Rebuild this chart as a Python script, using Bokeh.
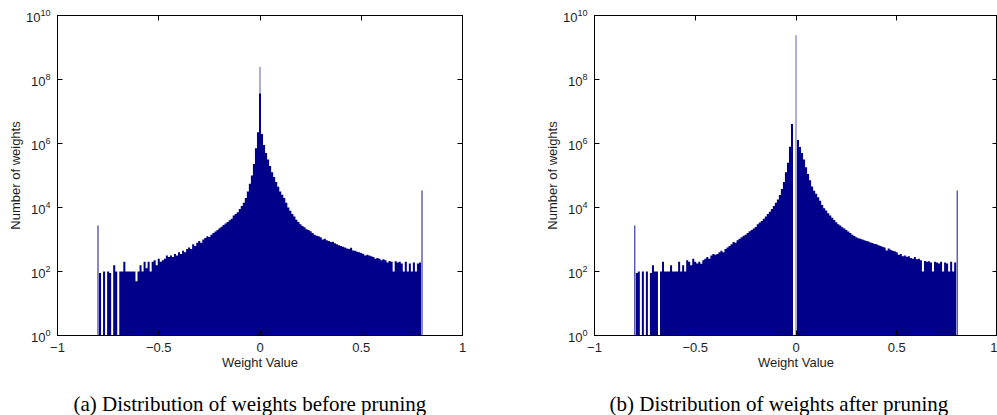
import numpy as np
from bokeh.plotting import figure
from bokeh.layouts import row, column
from bokeh.models import (FixedTicker, LinearAxis, LogAxis, CustomJSTickFormatter,
                          Range1d, Label)
from bokeh.embed import file_html
from bokeh.resources import INLINE

# ---------------- data ----------------
# histogram bin centres, weight value (bins of 0.01)
bin_centers = np.round(np.linspace(-0.79, 0.79, 159), 2)

# counts per bin, before pruning
before_counts = [
    89, 0, 100, 0, 100, 89, 0, 158, 100, 0,                      # -0.79 .. -0.70
    100, 100, 200, 100, 100, 100, 100, 100, 50, 100,             # -0.69 .. -0.60
    158, 100, 200, 126, 200, 100, 200, 224, 158, 251,            # -0.59 .. -0.50
    200, 224, 251, 316, 282, 316, 282, 355, 316, 398,            # -0.49 .. -0.40
    355, 447, 398, 501, 562, 501, 708, 631, 794, 891,            # -0.39 .. -0.30
    794, 1000, 1122, 1259, 1202, 1413, 1585, 1778, 1995, 2239,   # -0.29 .. -0.20
    2512, 2818, 3162, 3548, 3981, 4467, 5623, 6310, 7079, 8913,  # -0.19 .. -0.10
    11220, 14125, 19953, 31623, 54954, 100000, 229087, 707946, 2238721, 36307805,  # -0.09 .. 0.00
    1995262, 891251, 501187, 316228, 199526, 125893, 89125, 63096, 44668, 31623,  # 0.01 .. 0.10
    25119, 19953, 14125, 10000, 7943, 6310, 5248, 4169, 3548, 3020,  # 0.11 .. 0.20
    2630, 2399, 2089, 1995, 1820, 1585, 1413, 1318, 1259, 1175,  # 0.21 .. 0.30
    1000, 1047, 955, 891, 832, 851, 759, 708, 661, 631,          # 0.31 .. 0.40
    589, 562, 525, 501, 550, 457, 447, 417, 398, 380,            # 0.41 .. 0.50
    355, 316, 331, 316, 302, 282, 251, 263, 251, 224,            # 0.51 .. 0.60
    240, 224, 191, 214, 200, 100, 209, 191, 200, 178,            # 0.61 .. 0.70
    100, 200, 100, 178, 100, 191, 100, 178, 191,                 # 0.71 .. 0.79
]

# counts per bin, after pruning
after_counts = [
    89, 100, 0, 100, 0, 100, 0, 89, 158, 100,                    # -0.79 .. -0.70
    100, 0, 100, 200, 100, 100, 100, 158, 100, 100,              # -0.69 .. -0.60
    100, 200, 100, 158, 100, 224, 200, 158, 251, 200,            # -0.59 .. -0.50
    178, 200, 174, 224, 251, 282, 251, 316, 355, 331,            # -0.49 .. -0.40
    355, 398, 447, 398, 501, 562, 631, 708, 832, 794,            # -0.39 .. -0.30
    955, 1047, 1175, 1318, 1413, 1585, 1820, 1995, 2188, 2455,   # -0.29 .. -0.20
    3020, 3388, 3802, 4467, 5248, 6310, 7413, 8913, 11220, 14125,  # -0.19 .. -0.10
    17783, 24547, 38019, 63096, 125893, 251189, 794328, 4073803, 0, 0,  # -0.09 .. 0.00
    1288250, 776247, 501187, 316228, 181970, 112202, 70795, 45709, 33113, 26915,  # 0.01 .. 0.10
    20893, 16218, 12023, 9550, 8128, 6607, 5623, 4786, 4074, 3467,  # 0.11 .. 0.20
    3020, 2754, 2399, 2188, 1995, 1778, 1585, 1413, 1288, 1175,  # 0.21 .. 0.30
    1096, 1047, 1000, 955, 891, 871, 813, 776, 724, 708,         # 0.31 .. 0.40
    661, 631, 589, 562, 457, 525, 479, 447, 427, 398,            # 0.41 .. 0.50
    331, 355, 302, 316, 288, 302, 263, 251, 282, 240,            # 0.51 .. 0.60
    251, 224, 100, 214, 200, 209, 191, 100, 200, 191,            # 0.61 .. 0.70
    178, 200, 100, 191, 178, 100, 200, 100, 191,                 # 0.71 .. 0.79
]

# single very narrow spikes (clipped weights at the ends, exact zeros in the middle)
spike_x = [-0.80, 0.0, 0.80]
before_spike_counts = [2750, 250000000, 34000]
after_spike_counts = [2750, 2400000000, 34000]

x_ticks = [-1, -0.5, 0, 0.5, 1]
y_ticks = [1, 1e2, 1e4, 1e6, 1e8, 1e10]
captions = ["(a) Distribution of weights before pruning",
            "(b) Distribution of weights after pruning"]
x_label = "Weight Value"
y_label = "Number of weights"

# ---------------- styling ----------------
NAVY = "#00008b"
LIGHT = "#7878c4"
SANS = "Liberation Sans"
SERIF = "Liberation Serif"
TXT = "#1e1e1e"
H_PLOT = 390            # frame 15 .. 335, x axis below
H_CAP = 25              # caption strip below the plots


def make_panel(counts, spikes, width, left, right):
    p = figure(width=width, height=H_PLOT, x_range=Range1d(-1, 1),
               y_range=Range1d(1, 1e10), y_axis_type="log",
               output_backend="svg", toolbar_location=None,
               min_border_left=left, min_border_right=right,
               min_border_top=15, min_border_bottom=H_PLOT - 335)
    p.background_fill_color = "white"
    p.border_fill_color = "white"
    p.outline_line_color = "black"
    p.outline_line_width = 1
    p.grid.visible = False

    # spikes first, so the histogram body covers their lower part
    p.segment(x0=[spike_x[0], spike_x[2]], y0=[1, 1],
              x1=[spike_x[0], spike_x[2]], y1=[spikes[0], spikes[2]],
              line_color="#1010a0", line_width=1)
    p.segment(x0=[spike_x[1]], y0=[1], x1=[spike_x[1]], y1=[spikes[1]],
              line_color=LIGHT, line_width=1.2)

    half = 0.005
    edges = [float(c) - half for c in bin_centers] + [float(bin_centers[-1]) + half]
    tops = [max(c, 1) for c in counts] + [max(counts[-1], 1)]
    p.varea_step(x=edges, y1=[1] * len(edges), y2=tops, step_mode="after",
                 fill_color=NAVY)

    p.xaxis.ticker = FixedTicker(ticks=x_ticks)
    p.xaxis.formatter = CustomJSTickFormatter(
        code="return tick < 0 ? '\u2212' + String(Math.abs(tick)) : String(tick);")
    p.yaxis.ticker = FixedTicker(ticks=y_ticks)
    p.xaxis.axis_label = x_label
    p.yaxis.axis_label = y_label

    for ax in (p.xaxis[0], p.yaxis[0]):
        ax.major_tick_in = 5
        ax.major_tick_out = 0
        ax.minor_tick_line_color = None
        ax.axis_line_color = "black"
        ax.major_tick_line_color = "black"
        ax.major_label_text_font = SANS
        ax.major_label_text_font_size = "13px"
        ax.major_label_text_color = TXT
        ax.axis_label_text_font = SANS
        ax.axis_label_text_font_size = "13px"
        ax.axis_label_text_font_style = "normal"
        ax.axis_label_text_color = TXT
    p.xaxis.major_label_standoff = 7
    p.xaxis.axis_label_standoff = 0
    p.yaxis.major_label_standoff = 7
    p.yaxis.axis_label_standoff = 0

    blank = CustomJSTickFormatter(code="return '';")
    top_ax = LinearAxis(ticker=FixedTicker(ticks=x_ticks), formatter=blank)
    right_ax = LogAxis(ticker=FixedTicker(ticks=y_ticks), formatter=blank)
    for ax in (top_ax, right_ax):
        ax.major_tick_in = 5
        ax.major_tick_out = 0
        ax.minor_tick_line_color = None
        ax.axis_line_color = None
        ax.major_tick_line_color = "black"
        ax.major_label_text_font_size = "0px"
        ax.major_label_standoff = 0
    p.add_layout(top_ax, "above")
    p.add_layout(right_ax, "right")
    return p


def make_caption(text, width, x_px):
    c = figure(width=width, height=H_CAP, x_range=Range1d(0, width),
               y_range=Range1d(0, H_CAP), output_backend="svg",
               toolbar_location=None, min_border=0)
    c.axis.visible = False
    c.grid.visible = False
    c.outline_line_color = None
    c.background_fill_color = "white"
    c.border_fill_color = "white"
    c.add_layout(Label(x=x_px, y=H_CAP - 13, text=text, text_font=SERIF,
                       text_font_size="21px", text_color="black",
                       text_align="left", text_baseline="alphabetic"))
    return c


p1 = make_panel(before_counts, before_spike_counts, 520, 57, 58)
p2 = make_panel(after_counts, after_spike_counts, 477, 74, 0)
c1 = make_caption(captions[0], 520, 73)
c2 = make_caption(captions[1], 477, 609 - 520)

layout = column(row(p1, p2), row(c1, c2))
open("out.html", "w").write(file_html(layout, INLINE))
